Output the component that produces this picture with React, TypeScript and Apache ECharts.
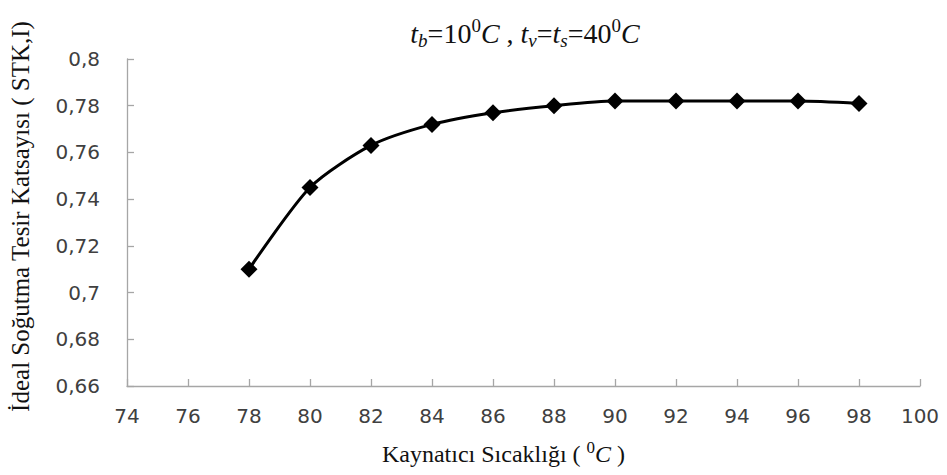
import React, { useEffect, useRef } from "react";
import * as echarts from "echarts";

const temperatures = [78, 80, 82, 84, 86, 88, 90, 92, 94, 96, 98];
const coefficients = [0.71, 0.745, 0.763, 0.772, 0.777, 0.78, 0.782, 0.782, 0.782, 0.782, 0.781];

const titleRich = "{i|t}{sub|b}{n|=10}{sup|0}{i|C}{n| , }{i|t}{sub|v}{n|=}{i|t}{sub|s}{n|=40}{sup|0}{i|C}";
const xName = "{n|Kaynatıcı Sıcaklığı ( }{sup|0}{i|C}{n| )}";
const yName = "İdeal Soğutma Tesir Katsayısı ( STK,I)";

function makeRich(size: number, small: number, lh: number) {
  const serif = "'Liberation Serif', 'DejaVu Serif', serif";
  const base = { fontFamily: serif, color: "#111", fontWeight: "normal", lineHeight: lh };
  return {
    n: { ...base, fontSize: size, verticalAlign: "middle" },
    i: { ...base, fontSize: size, fontStyle: "italic", verticalAlign: "middle" },
    sub: { ...base, fontSize: small, fontStyle: "italic", verticalAlign: "bottom" },
    sup: { ...base, fontSize: small, verticalAlign: "top" },
  };
}

export default function App() {
  const ref = useRef<HTMLDivElement>(null);
  useEffect(() => {
    if (!ref.current) return;
    const chart = echarts.init(ref.current, null, { renderer: "svg" });
    const serif = "'Liberation Serif', 'DejaVu Serif', serif";
    const sans = "'DejaVu Sans', 'Open Sans', sans-serif";
    chart.setOption({
      animation: false,
      backgroundColor: "#fff",
      title: {
        text: titleRich,
        left: 520,
        textAlign: "center",
        top: 11,
        textStyle: { fontWeight: "normal", rich: makeRich(28, 19, 34) },
      },
      grid: { left: 126, right: 27, top: 59, bottom: 89, containLabel: false },
      xAxis: {
        type: "value",
        min: 74,
        max: 100,
        interval: 2,
        name: xName,
        nameLocation: "middle",
        nameGap: 53,
        nameTextStyle: { rich: makeRich(24, 17, 30), padding: [0, 40, 0, 0] },
        axisLine: { lineStyle: { color: "#a6a6a6", width: 1.3 } },
        axisTick: { inside: true, length: 7, lineStyle: { color: "#a6a6a6", width: 1.3 } },
        axisLabel: { fontFamily: sans, fontSize: 20, color: "#404040", margin: 20 },
        splitLine: { show: false },
      },
      yAxis: {
        type: "value",
        min: 0.66,
        max: 0.8,
        interval: 0.02,
        name: yName,
        nameLocation: "middle",
        nameRotate: 90,
        nameGap: 94,
        nameTextStyle: { fontFamily: serif, fontSize: 25, color: "#111", padding: [0, 0, 0, 12] },
        axisLine: { show: true, lineStyle: { color: "#a6a6a6", width: 1.3 } },
        axisTick: { show: true, inside: true, length: 7, lineStyle: { color: "#a6a6a6", width: 1.3 } },
        axisLabel: {
          fontFamily: sans,
          fontSize: 20,
          color: "#404040",
          margin: 27,
          formatter: (v: number) => String(Math.round(v * 100) / 100).replace(".", ","),
        },
        splitLine: { show: false },
      },
      series: [
        {
          type: "line",
          data: temperatures.map((t, i) => [t, coefficients[i]]),
          smooth: 0.25,
          symbol: "diamond",
          symbolSize: 17,
          lineStyle: { color: "#000", width: 3 },
          itemStyle: { color: "#000" },
        },
      ],
    });
    return () => chart.dispose();
  }, []);
  return <div ref={ref} style={{ position: "fixed", left: 0, top: 0, width: 947, height: 475 }} />;
}
